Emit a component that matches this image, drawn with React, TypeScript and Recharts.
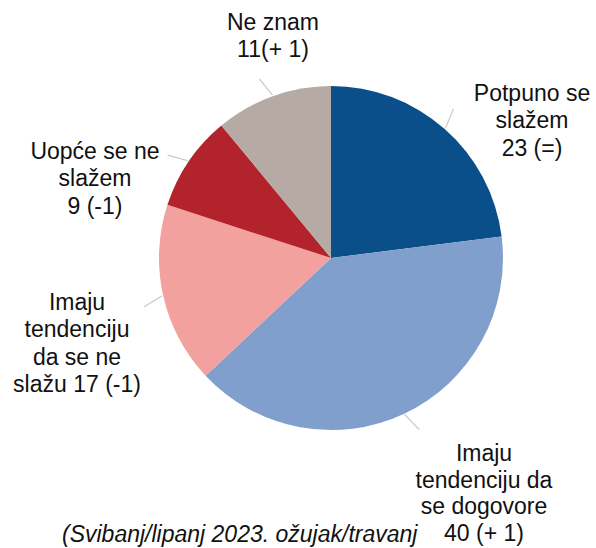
import { PieChart, Pie, Cell } from 'recharts';

const categories = [
  'Potpuno se\nslažem',
  'Imaju\ntendenciju da\nse dogovore',
  'Imaju\ntendenciju\nda se ne\nslažu',
  'Uopće se ne\nslažem',
  'Ne znam',
];
const values = [23, 40, 17, 9, 11];
const changes = ['(=)', '(+ 1)', '(-1)', '(-1)', '(+ 1)'];
const colors = ['#0B4F8A', '#809FCC', '#F2A19E', '#B2232B', '#B5AAA4'];

const data = categories.map((name, i) => ({ name, value: values[i], change: changes[i] }));

// label placement relative to pie centre (x of block centre, first baseline)
const labelLayout = [
  { dx: 201, dy: -157, inline: false, sep: ' ', gap: 27.3 },
  { dx: 153, dy: 203, inline: false, sep: ' ', gap: 26.6 },
  { dx: -254, dy: 52, inline: true, sep: ' ', gap: 27.3 },
  { dx: -236, dy: -99, inline: false, sep: ' ', gap: 27.3 },
  { dx: -58, dy: -228, inline: false, sep: '', gap: 27.3 },
];

const FONT = '"Liberation Sans", Arial, sans-serif';
const RAD = Math.PI / 180;

const renderLabel = (props: any) => {
  const { cx, cy, index, payload } = props;
  const lay = labelLayout[index];
  const lines = payload.name.split('\n');
  const valueText = `${payload.value}${lay.sep}${payload.change}`;
  if (lay.inline) lines[lines.length - 1] = `${lines[lines.length - 1]} ${valueText}`;
  else lines.push(valueText);
  return (
    <text
      key={`lbl-${index}`}
      x={cx + lay.dx}
      y={cy + lay.dy}
      textAnchor="middle"
      fill="#111"
      style={{ fontFamily: FONT, fontSize: 23 }}
    >
      {lines.map((l: string, i: number) => (
        <tspan key={i} x={cx + lay.dx} dy={i === 0 ? 0 : lay.gap}>
          {l}
        </tspan>
      ))}
    </text>
  );
};

const renderLine = (props: any) => {
  const { cx, cy, midAngle, outerRadius, index } = props;
  const r1 = outerRadius + 1;
  const r2 = outerRadius + 21;
  const x1 = cx + r1 * Math.cos(-midAngle * RAD);
  const y1 = cy + r1 * Math.sin(-midAngle * RAD);
  const x2 = cx + r2 * Math.cos(-(midAngle + 2) * RAD);
  const y2 = cy + r2 * Math.sin(-(midAngle + 2) * RAD);
  return <path key={`ln-${index}`} d={`M${x1},${y1}L${x2},${y2}`} stroke="#C8C8C8" strokeWidth={1.2} fill="none" />;
};

export default function App() {
  return (
    <div style={{ position: 'absolute', left: 0, top: 0, width: 596, height: 548, background: '#fff' }}>
      <PieChart width={596} height={548} margin={{ top: 0, right: 0, bottom: 0, left: 0 }}>
        <Pie
          data={data}
          dataKey="value"
          nameKey="name"
          cx={331}
          cy={258}
          outerRadius={172}
          startAngle={90}
          endAngle={-270}
          stroke="none"
          label={renderLabel}
          labelLine={renderLine}
          isAnimationActive={false}
        >
          {data.map((d, i) => (
            <Cell key={`cell-${i}`} fill={colors[i]} />
          ))}
        </Pie>
      </PieChart>
      <div
        style={{
          position: 'absolute',
          left: 62,
          top: 521,
          fontFamily: FONT,
          fontSize: 23,
          fontStyle: 'italic',
          color: '#111',
          whiteSpace: 'nowrap',
          lineHeight: '27px',
        }}
      >
        (Svibanj/lipanj 2023. ožujak/travanj
      </div>
    </div>
  );
}
